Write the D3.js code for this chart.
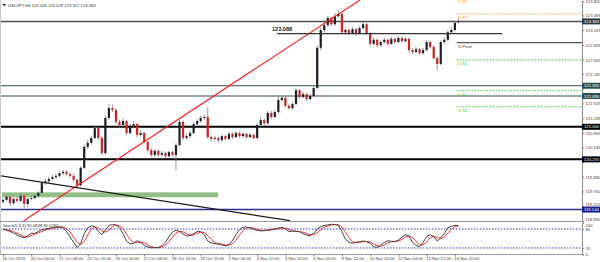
<!DOCTYPE html>
<html>
<head>
<meta charset="utf-8">
<script src="https://cdn.jsdelivr.net/npm/d3@7"></script>
<style>
  body { margin: 0; background: #fff; }
  svg { display: block; font-family: "Liberation Sans", Arial, sans-serif; }
</style>
</head>
<body>
<div id="chart"></div>
<script>
// H4 bars, USDJPY
const open = [119.32,119.36,119.43,119.29,119.38,119.34,119.45,119.27,119.38,119.40,
  119.45,119.52,119.74,119.78,119.83,119.87,119.90,119.96,119.99,119.94,
  119.90,119.81,119.69,120.08,120.55,120.64,120.75,120.97,120.75,120.41,
  121.20,121.42,121.38,121.11,121.04,121.13,120.86,121.02,121.06,120.82,
  120.86,120.66,120.48,120.37,120.46,120.37,120.41,120.34,120.43,120.37,
  120.59,121.11,120.75,120.79,120.86,121.06,121.13,121.20,121.22,120.77,
  120.73,120.75,120.70,120.79,120.73,120.84,120.77,120.86,120.79,120.84,
  120.77,120.82,120.75,121.04,121.15,121.08,121.31,121.22,121.33,121.60,
  121.65,121.47,121.42,121.51,121.82,121.67,121.73,121.62,121.69,121.87,
  122.77,123.17,123.28,123.44,123.30,123.48,123.53,123.12,123.17,123.10,
  123.19,123.10,123.21,123.30,123.10,122.86,122.95,122.83,122.90,122.95,
  122.86,122.97,122.90,122.99,122.92,122.97,122.72,122.68,122.74,122.65,
  122.72,122.90,122.79,122.54,122.41,122.90,122.95,123.12,123.17,123.345];
const high = [119.41,119.47,119.46,119.42,119.44,119.49,119.48,119.41,119.45,119.49,
  119.55,119.77,119.83,119.88,119.92,119.95,120.00,120.04,120.03,119.97,
  119.93,119.84,120.12,120.60,120.70,120.80,121.03,121.00,120.79,121.25,
  121.51,121.50,121.41,121.16,121.19,121.16,121.07,121.12,121.09,120.92,
  120.89,120.69,120.52,120.50,120.49,120.46,120.44,120.47,120.46,120.63,
  121.16,121.14,120.85,120.91,121.10,121.18,121.25,121.28,121.44,120.81,
  120.80,120.78,120.83,120.82,120.88,120.87,120.90,120.89,120.88,120.87,
  120.86,120.85,121.08,121.22,121.19,121.35,121.35,121.38,121.71,121.70,
  121.68,121.51,121.55,121.86,121.85,121.78,121.76,121.74,121.91,122.82,
  123.22,123.34,123.49,123.47,123.55,123.62,123.56,123.23,123.21,123.24,
  123.22,123.26,123.36,123.33,123.13,123.00,122.98,122.95,123.00,122.98,
  123.02,123.00,123.04,123.02,123.01,123.00,122.76,122.79,122.77,122.77,
  122.94,122.93,122.82,122.57,122.94,123.00,123.16,123.22,123.38,123.429];
const low = [119.27,119.33,119.22,119.25,119.30,119.31,119.18,119.19,119.35,119.37,
  119.42,119.50,119.70,119.74,119.80,119.83,119.86,119.92,119.90,119.86,
  119.77,119.64,119.66,120.05,120.50,120.60,120.72,120.70,120.36,120.38,
  121.16,121.33,121.06,120.98,121.00,120.81,120.83,120.98,120.77,120.78,
  120.62,120.43,120.32,120.33,120.32,120.33,120.30,120.31,120.33,120.03,
  120.56,120.70,120.71,120.75,120.83,121.02,121.09,121.15,120.73,120.68,
  120.69,120.65,120.67,120.69,120.70,120.73,120.74,120.75,120.76,120.73,
  120.74,120.71,120.72,121.00,121.03,121.05,121.17,121.19,121.30,121.56,
  121.43,121.38,121.39,121.48,121.63,121.64,121.58,121.59,121.66,121.84,
  122.72,123.12,123.24,123.26,123.27,123.44,123.08,123.07,123.05,123.06,
  123.05,123.07,123.18,123.06,122.81,122.82,122.78,122.79,122.86,122.82,
  122.83,122.86,122.87,122.88,122.89,122.67,122.63,122.65,122.61,122.62,
  122.69,122.75,122.50,122.27,122.38,122.86,122.92,123.08,123.14,123.317];
const close = [119.36,119.43,119.29,119.38,119.34,119.45,119.27,119.38,119.40,119.45,
  119.52,119.74,119.78,119.83,119.87,119.90,119.96,119.99,119.94,119.90,
  119.81,119.69,120.08,120.55,120.64,120.75,120.97,120.75,120.41,121.20,
  121.42,121.38,121.11,121.04,121.13,120.86,121.02,121.06,120.82,120.86,
  120.66,120.48,120.37,120.46,120.37,120.41,120.34,120.43,120.37,120.59,
  121.11,120.75,120.79,120.86,121.06,121.13,121.20,121.22,120.77,120.73,
  120.75,120.70,120.79,120.73,120.84,120.77,120.86,120.79,120.84,120.77,
  120.82,120.75,121.04,121.15,121.08,121.31,121.22,121.33,121.60,121.65,
  121.47,121.42,121.51,121.82,121.67,121.73,121.62,121.69,121.87,122.77,
  123.17,123.28,123.44,123.30,123.48,123.53,123.12,123.17,123.10,123.19,
  123.10,123.21,123.30,123.10,122.86,122.95,122.83,122.90,122.95,122.86,
  122.97,122.90,122.99,122.92,122.97,122.72,122.68,122.74,122.65,122.72,
  122.90,122.79,122.54,122.41,122.90,122.95,123.12,123.17,123.33,123.363];

// Stochastic (5,3,3) main and signal lines
const stochK = [79,76,73,67,61,56,52,58,67,66,72,78,80,82,84,86,87,85,72,55,
  38,22,34,65,84,90,88,72,62,77,91,94,93,84,65,42,33,35,43,38,
  28,23,21,21,22,27,38,55,70,76,72,64,58,60,65,72,72,62,42,36,
  34,32,30,27,30,43,62,78,86,86,83,79,76,74,75,77,79,81,83,85,
  80,72,73,73,71,66,61,59,66,80,87,91,93,95,94,92,72,48,38,35,
  38,40,42,40,35,24,22,29,37,43,41,40,45,55,62,58,38,28,24,38,
  56,62,56,42,52,66,84,88,92,90.08];
const stochD = [80,78,76,72,67,61,56,55,59,64,68,72,77,80,82,84,86,86,81,71,
  55,38,31,40,61,80,87,83,74,70,77,87,93,90,81,64,47,37,37,39,
  36,30,24,22,21,23,29,40,54,67,73,71,65,61,61,66,70,69,59,47,
  37,34,32,30,29,33,45,61,75,83,85,83,79,76,75,75,77,79,81,83,
  83,79,75,73,72,70,66,62,62,68,78,86,90,93,94,94,86,71,53,40,
  37,38,40,41,39,33,27,25,29,36,40,41,42,47,54,58,53,41,30,30,
  39,52,58,53,50,53,67,79,88,90.03];

// time axis, one label every 8 bars
const dateLabels = ["16 Oct 2015","20 Oct 00:00","21 Oct 08:00","22 Oct 16:00","26 Oct 00:00",
  "27 Oct 08:00","28 Oct 16:00","29 Oct 20:00","2 Nov 04:00","3 Nov 12:00","4 Nov 20:00",
  "6 Nov 04:00","9 Nov 12:00","10 Nov 20:00","12 Nov 04:00","13 Nov 12:00","16 Nov 20:00"];
// 121.850 and 120.210 sit under the line boxes, only their ticks show
const priceTicks = [123.820,123.495,123.165,122.835,122.505,122.180,121.850,121.525,
  121.195,120.865,120.535,120.210,119.880,119.550,119.225,118.890];
const hiddenTicks = [121.850, 120.210];
const oscTicks = [100, 80, 20, 0];
const oscLevels = [80, 20];

// drawn objects
const hLines = [123.363, 121.920, 121.690, 121.000, 120.270, 119.144];
const pivotNames = ["D R2", "D R1", "D Pivot", "D S1", "D S2", "D S3"];
const pivotValues = [123.90, 123.53, 122.885, 122.50, 121.81, 121.45];
const redTrend = [[5.8, 118.89], [101.1, 123.84]];
const blackTrend = [[-0.85, 119.903], [81.3, 118.896]];
const levelLine = [[77.6, 123.088], [141.4, 123.088]];
const zoneBars = [-0.3, 60.9];
const zonePrices = [119.42, 119.53];
const header = ["USDJPY,H4", 123.345, 123.429, 123.317, 123.363];
const stochHeader = ["Stoch(5,3,3)", 90.0848, 90.0282];

const width = 600, height = 262;
const axisX = 582, mainBottom = 221;

const svg = d3.select("#chart")
  .append("svg")
  .attr("width", width)
  .attr("height", height);

// scales
const x = d3.scaleLinear().domain([0, 129]).range([3, 458.4]);
const y = d3.scaleLinear().domain([118.89, 123.82]).range([220.9, 1]);
const yOsc = d3.scaleLinear().domain([0, 100]).range([254.3, 222.7]);

svg.append("clipPath").attr("id", "mainClip")
  .append("rect").attr("x", 1).attr("y", 0).attr("width", axisX - 1).attr("height", mainBottom);
svg.append("clipPath").attr("id", "oscClip")
  .append("rect").attr("x", 1).attr("y", 222).attr("width", axisX - 1).attr("height", 33);

// frames
svg.append("line").attr("x1", 0.5).attr("x2", 0.5).attr("y1", 0).attr("y2", 255)
  .attr("stroke", "#c8c8c8");
svg.append("line").attr("x1", 0).attr("x2", axisX).attr("y1", 221.5).attr("y2", 221.5)
  .attr("stroke", "#9a9a9a");
svg.append("line").attr("x1", 0).attr("x2", axisX).attr("y1", 254.5).attr("y2", 254.5)
  .attr("stroke", "#9a9a9a");

const main = svg.append("g").attr("clip-path", "url(#mainClip)");

// green zone
main.append("rect")
  .attr("x", x(zoneBars[0]))
  .attr("width", x(zoneBars[1]) - x(zoneBars[0]))
  .attr("y", y(zonePrices[1]))
  .attr("height", y(zonePrices[0]) - y(zonePrices[1]))
  .attr("fill", "#8fbf85");

// horizontal levels
const hColors = ["#4d4d4d", "#2f4f4f", "#2f4f4f", "#000", "#000", "#2e2e8f"];
const hWidths = [1.5, 1, 1, 2, 2, 1.5];
main.selectAll("line.h")
  .data(hLines)
  .join("line")
  .attr("class", "h")
  .attr("x1", 0).attr("x2", axisX)
  .attr("y1", d => y(d)).attr("y2", d => y(d))
  .attr("stroke", (d, i) => hColors[i])
  .attr("stroke-width", (d, i) => hWidths[i]);

// daily pivots
const pivColors = ["#f0a030", "#f0a030", "#555", "#33cc33", "#33cc33", "#33cc33"];
main.selectAll("line.piv")
  .data(pivotValues)
  .join("line")
  .attr("class", "piv")
  .attr("x1", x(128.5)).attr("x2", axisX)
  .attr("y1", d => y(d)).attr("y2", d => y(d))
  .attr("stroke", (d, i) => pivColors[i])
  .attr("stroke-width", (d, i) => i == 2 ? 1.2 : 1)
  .attr("stroke-dasharray", (d, i) => i == 2 ? null : "1.5,1.5");
main.selectAll("text.piv")
  .data(pivotValues)
  .join("text")
  .attr("class", "piv")
  .attr("x", x(128.5) + 1.5)
  .attr("y", d => y(d) + 5.5)
  .attr("font-size", 4.2)
  .attr("fill", (d, i) => i == 2 ? "#333" : pivColors[i])
  .text((d, i) => pivotNames[i]);

// candles
const bars = d3.range(close.length);
main.selectAll("line.wick")
  .data(bars)
  .join("line")
  .attr("class", "wick")
  .attr("x1", i => x(i)).attr("x2", i => x(i))
  .attr("y1", i => y(high[i])).attr("y2", i => y(low[i]))
  .attr("stroke", "#7a7a7a")
  .attr("stroke-width", 0.8);
main.selectAll("rect.body")
  .data(bars)
  .join("rect")
  .attr("class", "body")
  .attr("x", i => x(i) - 1.1)
  .attr("width", 2.2)
  .attr("y", i => y(Math.max(open[i], close[i])))
  .attr("height", i => Math.max(0.8, Math.abs(y(open[i]) - y(close[i]))))
  .attr("fill", i => close[i] >= open[i] ? "#1b1f2a" : "#d0201c");

// trend lines
const line = d3.line().x(d => x(d[0])).y(d => y(d[1]));
main.append("path").attr("d", line(redTrend))
  .attr("stroke", "#ff1a1a").attr("stroke-width", 1.2).attr("fill", "none");
main.append("path").attr("d", line(blackTrend))
  .attr("stroke", "#1a1a1a").attr("stroke-width", 1.2).attr("fill", "none");
main.append("path").attr("d", line(levelLine))
  .attr("stroke", "#333").attr("stroke-width", 1.2).attr("fill", "none");
main.append("text")
  .attr("x", x(levelLine[0][0]) - 5)
  .attr("y", y(levelLine[0][1]) - 3)
  .attr("font-size", 5.6)
  .attr("font-weight", "bold")
  .attr("fill", "#222")
  .text(d3.format(".3f")(levelLine[0][1]));

// header
svg.append("path").attr("d", "M2.5,4 L6,4 L4.25,6.5 Z").attr("fill", "#333");
svg.append("text")
  .attr("x", 8).attr("y", 7)
  .attr("font-size", 4.2)
  .attr("fill", "#333")
  .text(header[0] + "  " + header.slice(1).map(d3.format(".3f")).join(" "));

// price axis
const yAxis = svg.append("g")
  .attr("transform", `translate(${axisX},0)`)
  .call(d3.axisRight(y).tickValues(priceTicks).tickSize(2).tickPadding(1.5)
    .tickFormat(d => hiddenTicks.includes(d) ? "" : d3.format(".3f")(d)));
yAxis.select(".domain").attr("stroke", "#888");
yAxis.selectAll(".tick line").attr("stroke", "#888");
yAxis.selectAll("text").attr("font-size", 4.2).attr("fill", "#444")
  .attr("font-family", "Liberation Sans, Arial, sans-serif");
// keep labels clear of the boxes and the oscillator's "100"
yAxis.selectAll(".tick").filter(d => d == 118.890).select("text").attr("dy", "-0.05em");
yAxis.selectAll(".tick").filter(d => d == 119.225).select("text").attr("dy", "-0.2em");

// price boxes on axis
const boxColors = ["#2f3f3f", "#2f4f4f", "#2f4f4f", "#000", "#000", "#1c1c8a"];
const boxes = svg.selectAll("g.box")
  .data(hLines)
  .join("g")
  .attr("class", "box")
  .attr("transform", d => `translate(${axisX},${y(d)})`);
boxes.append("rect")
  .attr("x", 0).attr("y", -3).attr("width", 18).attr("height", 6)
  .attr("fill", (d, i) => boxColors[i]);
boxes.append("text")
  .attr("x", 2).attr("y", 1.6)
  .attr("font-size", 4.2)
  .attr("fill", "#fff")
  .text(d => d3.format(".3f")(d));

// stochastic panel
const osc = svg.append("g").attr("clip-path", "url(#oscClip)");
osc.selectAll("line.lvl")
  .data(oscLevels)
  .join("line")
  .attr("class", "lvl")
  .attr("x1", 0).attr("x2", axisX)
  .attr("y1", d => yOsc(d)).attr("y2", d => yOsc(d))
  .attr("stroke", "#3a3ac8")
  .attr("stroke-dasharray", "1.5,1.5");
const oscLine = d3.line().x((d, i) => x(i)).y(d => yOsc(d));
osc.append("path").attr("d", oscLine(stochD))
  .attr("stroke", "#ff3030").attr("stroke-width", 1).attr("fill", "none");
osc.append("path").attr("d", oscLine(stochK))
  .attr("stroke", "#444").attr("stroke-width", 1).attr("fill", "none");
svg.append("text")
  .attr("x", 3).attr("y", 226.5)
  .attr("font-size", 4.2)
  .attr("fill", "#333")
  .text(stochHeader[0] + " " + stochHeader.slice(1).map(d3.format(".4f")).join(" "));

const oAxis = svg.append("g")
  .attr("transform", `translate(${axisX},0)`)
  .call(d3.axisRight(yOsc).tickValues(oscTicks).tickSize(2).tickPadding(1.5));
oAxis.select(".domain").attr("stroke", "#888");
oAxis.selectAll(".tick line").attr("stroke", "#888");
oAxis.selectAll("text").attr("font-size", 4.2).attr("fill", "#444")
  .attr("font-family", "Liberation Sans, Arial, sans-serif");
oAxis.selectAll(".tick").filter(d => d == 100).select("text").attr("dy", "0.95em");

// time axis
const xAxis = svg.append("g")
  .attr("transform", "translate(0,254.5)")
  .call(d3.axisBottom(x).tickValues(d3.range(0, 129, 8)).tickSize(2).tickPadding(1)
    .tickFormat((d, i) => dateLabels[i]));
xAxis.select(".domain").remove();
xAxis.selectAll(".tick line").attr("stroke", "#888");
xAxis.selectAll("text")
  .attr("text-anchor", "start")
  .attr("dx", -1)
  .attr("font-size", 4.2)
  .attr("fill", "#444")
  .attr("font-family", "Liberation Sans, Arial, sans-serif");
</script>
</body>
</html>
